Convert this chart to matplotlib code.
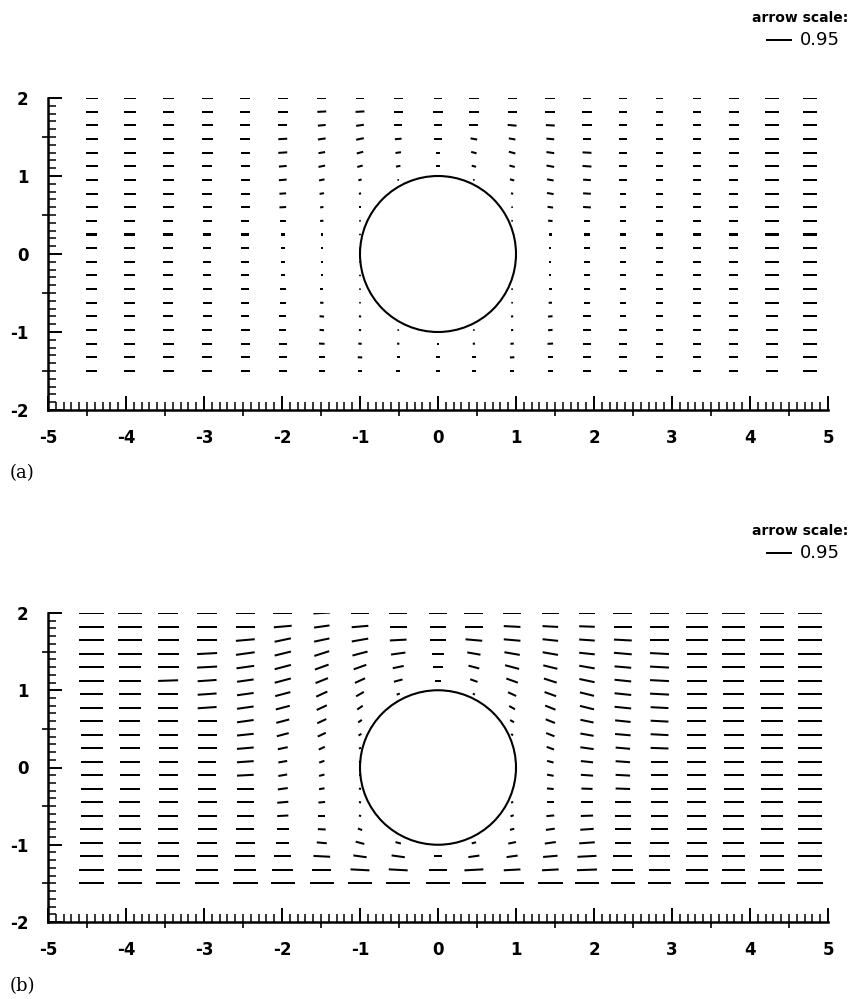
import numpy as np
import matplotlib.pyplot as plt
from matplotlib.patches import Circle
from matplotlib.ticker import MultipleLocator, NullFormatter

plt.rcParams['axes.unicode_minus'] = False

# grid of arrow positions (20 columns x 21 rows)
x_cols = [-4.44, -3.95, -3.46, -2.96, -2.47, -1.99, -1.49, -1.0, -0.51, 0.0,
          0.46, 0.95, 1.44, 1.91, 2.37, 2.84, 3.32, 3.79, 4.28, 4.77]
y_rows = [2.0, 1.825, 1.65, 1.475, 1.3, 1.125, 0.95, 0.775, 0.6, 0.425, 0.25,
          0.075, -0.1, -0.275, -0.45, -0.625, -0.8, -0.975, -1.15, -1.325, -1.5]

# panel (a): speed in hundredths, tilt in degrees (+ = pointing up-left)
speed_a = [
    [44, 44, 40, 40, 36, 36, 32, 32, 32, 32, 36, 32, 36, 32, 28, 28, 28, 36, 48, 48],
    [44, 44, 40, 40, 36, 36, 32, 32, 32, 36, 36, 32, 36, 36, 28, 28, 28, 36, 48, 48],
    [44, 44, 40, 40, 36, 32, 28, 28, 28, 32, 32, 32, 32, 36, 28, 28, 28, 36, 48, 48],
    [44, 44, 40, 40, 36, 32, 28, 28, 24, 28, 24, 24, 28, 32, 28, 28, 28, 36, 48, 48],
    [44, 44, 40, 40, 32, 32, 24, 24, 20, 16, 20, 24, 28, 32, 28, 28, 28, 36, 48, 48],
    [44, 44, 40, 36, 32, 28, 24, 20, 16, 12, 16, 20, 28, 32, 28, 28, 28, 32, 48, 48],
    [44, 44, 40, 36, 32, 28, 20, 12, 4, 0, 4, 16, 24, 28, 28, 28, 28, 32, 48, 48],
    [44, 44, 40, 36, 32, 24, 16, 8, 0, 0, 0, 8, 24, 28, 24, 28, 28, 32, 48, 48],
    [44, 44, 40, 32, 32, 24, 12, 8, 0, 0, 0, 4, 20, 28, 24, 28, 28, 32, 48, 48],
    [40, 40, 36, 32, 28, 20, 12, 4, 0, 0, 0, 4, 16, 24, 24, 28, 28, 32, 48, 48],
    [40, 40, 36, 28, 28, 16, 8, 4, 0, 0, 0, 0, 12, 24, 24, 28, 28, 32, 48, 48],
    [40, 40, 36, 28, 28, 16, 8, 4, 0, 0, 0, 0, 8, 20, 24, 28, 28, 32, 48, 48],
    [40, 40, 36, 28, 28, 16, 8, 4, 0, 0, 0, 0, 8, 20, 24, 28, 28, 32, 48, 48],
    [40, 40, 36, 28, 28, 16, 8, 4, 0, 0, 0, 0, 8, 20, 24, 28, 28, 32, 48, 48],
    [40, 40, 36, 32, 28, 20, 12, 4, 0, 0, 0, 4, 12, 24, 24, 28, 28, 32, 48, 48],
    [40, 40, 36, 32, 28, 20, 12, 4, 0, 0, 0, 4, 12, 24, 24, 28, 28, 32, 48, 48],
    [40, 40, 36, 32, 28, 24, 16, 8, 0, 0, 0, 8, 16, 28, 24, 28, 28, 32, 44, 48],
    [40, 40, 40, 36, 32, 24, 16, 8, 4, 0, 4, 8, 16, 28, 28, 28, 28, 32, 44, 48],
    [40, 40, 40, 36, 32, 28, 20, 12, 8, 8, 8, 12, 20, 28, 28, 28, 28, 32, 44, 48],
    [40, 40, 40, 36, 32, 28, 20, 16, 12, 12, 12, 16, 20, 28, 28, 28, 28, 32, 44, 48],
    [40, 40, 40, 36, 32, 28, 20, 16, 16, 12, 16, 16, 20, 32, 28, 28, 28, 32, 44, 48],
]
angle_a = [
    [0, 0, 0, 0, 0, 0, 0, 0, 0, 0, 0, 0, 0, 0, 0, 0, 0, 0, 0, 0],
    [0, 0, 0, 0, 0, 0, -3, -3, 0, 0, 0, 0, 0, 0, 0, 0, 0, 0, 0, 0],
    [0, 0, 0, 0, 0, 0, -5, -8, 0, 0, 0, 5, 3, 0, 0, 0, 0, 0, 0, 0],
    [0, 0, 0, 0, 0, -3, -8, -12, -5, 0, 10, 10, 5, 0, 0, 0, 0, 0, 0, 0],
    [0, 0, 0, 0, 0, -4, -10, -15, -8, 0, 15, 15, 8, 3, 0, 0, 0, 0, 0, 0],
    [0, 0, 0, 0, 0, -5, -12, -15, -10, 0, 15, 15, 10, 4, 0, 0, 0, 0, 0, 0],
    [0, 0, 0, 0, 0, -5, -12, -15, 0, 0, 0, 15, 10, 4, 0, 0, 0, 0, 0, 0],
    [0, 0, 0, 0, 0, -4, -10, -10, 0, 0, 0, 10, 10, 3, 0, 0, 0, 0, 0, 0],
    [0, 0, 0, 0, 0, -3, -8, 0, 0, 0, 0, 0, 8, 3, 0, 0, 0, 0, 0, 0],
    [0, 0, 0, 0, 0, 0, -5, 0, 0, 0, 0, 0, 5, 0, 0, 0, 0, 0, 0, 0],
    [0, 0, 0, 0, 0, 0, 0, 0, 0, 0, 0, 0, 0, 0, 0, 0, 0, 0, 0, 0],
    [0, 0, 0, 0, 0, 0, 0, 0, 0, 0, 0, 0, 0, 0, 0, 0, 0, 0, 0, 0],
    [0, 0, 0, 0, 0, 0, 0, 0, 0, 0, 0, 0, 0, 0, 0, 0, 0, 0, 0, 0],
    [0, 0, 0, 0, 0, 0, 0, 0, 0, 0, 0, 0, 0, 0, 0, 0, 0, 0, 0, 0],
    [0, 0, 0, 0, 0, 0, 0, 0, 0, 0, 0, 0, 0, 0, 0, 0, 0, 0, 0, 0],
    [0, 0, 0, 0, 0, 0, 3, 0, 0, 0, 0, 0, -3, 0, 0, 0, 0, 0, 0, 0],
    [0, 0, 0, 0, 0, 0, 5, 5, 0, 0, 0, -5, -5, 0, 0, 0, 0, 0, 0, 0],
    [0, 0, 0, 0, 0, 0, 5, 8, 5, 0, -5, -8, -5, 0, 0, 0, 0, 0, 0, 0],
    [0, 0, 0, 0, 0, 0, 3, 5, 5, 0, -5, -5, -3, 0, 0, 0, 0, 0, 0, 0],
    [0, 0, 0, 0, 0, 0, 0, 3, 0, 0, 0, -3, 0, 0, 0, 0, 0, 0, 0, 0],
    [0, 0, 0, 0, 0, 0, 0, 0, 0, 0, 0, 0, 0, 0, 0, 0, 0, 0, 0, 0],
]

# panel (b)
speed_b = [
    [88, 88, 72, 72, 68, 68, 60, 64, 64, 64, 68, 64, 60, 60, 68, 68, 80, 80, 88, 88],
    [88, 84, 76, 72, 68, 64, 56, 60, 60, 60, 64, 60, 56, 56, 64, 68, 76, 80, 84, 88],
    [88, 84, 76, 72, 68, 60, 56, 60, 60, 60, 60, 60, 56, 56, 64, 68, 76, 80, 84, 88],
    [88, 84, 76, 72, 68, 60, 56, 56, 52, 40, 48, 56, 56, 56, 64, 68, 72, 80, 84, 88],
    [88, 80, 76, 72, 64, 60, 52, 48, 40, 36, 40, 52, 52, 56, 60, 68, 72, 80, 84, 88],
    [88, 80, 72, 68, 60, 60, 48, 40, 32, 20, 28, 44, 48, 56, 60, 68, 72, 76, 84, 88],
    [84, 80, 72, 68, 60, 56, 44, 32, 12, 0, 8, 32, 44, 52, 60, 68, 72, 76, 84, 88],
    [84, 80, 72, 68, 60, 52, 40, 24, 0, 0, 0, 24, 40, 52, 60, 64, 72, 76, 80, 88],
    [84, 76, 72, 68, 60, 48, 36, 16, 0, 0, 0, 16, 36, 48, 56, 64, 68, 76, 80, 88],
    [80, 76, 68, 68, 60, 44, 32, 12, 0, 0, 0, 8, 32, 48, 56, 64, 68, 72, 80, 88],
    [80, 72, 68, 68, 60, 36, 24, 8, 0, 0, 0, 0, 28, 48, 52, 64, 68, 72, 80, 88],
    [80, 72, 68, 64, 60, 32, 20, 8, 0, 0, 0, 0, 24, 44, 52, 64, 68, 72, 80, 88],
    [80, 72, 68, 64, 60, 32, 20, 8, 0, 0, 0, 0, 24, 44, 52, 64, 68, 72, 80, 88],
    [80, 72, 68, 64, 60, 36, 20, 8, 0, 0, 0, 0, 24, 40, 52, 64, 68, 72, 80, 88],
    [80, 76, 68, 68, 60, 40, 24, 8, 0, 0, 0, 8, 24, 40, 56, 64, 68, 72, 80, 88],
    [80, 76, 72, 68, 60, 40, 24, 8, 0, 0, 0, 12, 28, 44, 56, 64, 68, 76, 80, 88],
    [84, 80, 72, 68, 64, 44, 28, 16, 0, 0, 0, 16, 32, 48, 60, 64, 72, 76, 80, 88],
    [84, 80, 76, 72, 68, 48, 36, 32, 20, 0, 16, 28, 40, 56, 60, 68, 72, 76, 84, 88],
    [84, 84, 80, 76, 72, 60, 60, 48, 48, 32, 40, 40, 52, 68, 68, 72, 76, 80, 84, 88],
    [88, 84, 84, 80, 80, 76, 68, 68, 68, 68, 68, 60, 60, 72, 76, 76, 80, 84, 88, 88],
    [88, 88, 88, 88, 88, 88, 88, 88, 88, 84, 88, 88, 88, 88, 88, 80, 88, 92, 96, 92],
]
angle_b = [
    [0, 0, 0, 0, 0, 0, -3, 0, 0, 0, 0, 0, 0, 0, 0, 0, 0, 0, 0, 0],
    [0, 0, 0, 0, 0, -5, -8, -5, 0, 0, 0, 3, 3, 2, 0, 0, 0, 0, 0, 0],
    [0, 0, 0, 0, -5, -12, -12, -10, -3, 0, 5, 5, 6, 4, 3, 0, 0, 0, 0, 0],
    [0, 0, 0, -3, -8, -14, -18, -15, -8, 0, 10, 10, 10, 6, 5, 3, 0, 0, 0, 0],
    [0, 0, 0, -3, -8, -15, -20, -20, -12, 0, 15, 15, 14, 10, 5, 3, 0, 0, 0, 0],
    [0, 0, -2, -4, -8, -15, -22, -25, -15, 0, 20, 20, 18, 12, 6, 3, 0, 0, 0, 0],
    [0, 0, 0, -4, -8, -15, -25, -30, -20, 0, 25, 25, 20, 14, 6, 3, 0, 0, 0, 0],
    [0, 0, 0, -4, -8, -15, -25, -35, 0, 0, 0, 30, 22, 14, 6, 3, 0, 0, 0, 0],
    [0, 0, 0, 0, -8, -15, -25, -35, 0, 0, 0, 30, 22, 12, 6, 3, 0, 0, 0, 0],
    [0, 0, 0, 0, -6, -15, -25, -30, 0, 0, 0, 30, 22, 10, 5, 3, 0, 0, 0, 0],
    [0, 0, 0, 0, -5, -12, -25, -20, 0, 0, 0, 0, 20, 8, 5, 2, 0, 0, 0, 0],
    [0, 0, 0, 0, -4, -10, -20, -10, 0, 0, 0, 0, 15, 6, 4, 0, 0, 0, 0, 0],
    [0, 0, 0, 0, -3, -10, -15, 0, 0, 0, 0, 0, 10, 4, 3, 0, 0, 0, 0, 0],
    [0, 0, 0, 0, 0, -8, -10, 5, 0, 0, 0, 0, 5, 2, 2, 0, 0, 0, 0, 0],
    [0, 0, 0, 0, 0, -5, -5, 10, 0, 0, 0, -20, 0, 0, 0, 0, 0, 0, 0, 0],
    [0, 0, 0, 0, 0, -3, 0, 15, 0, 0, 0, -20, -5, -2, 0, 0, 0, 0, 0, 0],
    [0, 0, 0, 0, 0, 0, 3, 20, 0, 0, 0, -15, -8, -4, 0, 0, 0, 0, 0, 0],
    [0, 0, 0, 0, 0, 0, 5, 15, 15, 0, -15, -12, -8, -4, 0, 0, 0, 0, 0, 0],
    [0, 0, 0, 0, 0, 0, 3, 8, 8, 0, -8, -8, -5, -3, 0, 0, 0, 0, 0, 0],
    [0, 0, 0, 0, 0, 0, 0, 3, 3, 0, -3, -3, -3, -2, 0, 0, 0, 0, 0, 0],
    [0, 0, 0, 0, 0, 0, 0, 0, 0, 0, 0, 0, 0, 0, 0, 0, 0, 0, 0, 0],
]

key_value = 0.95
panel_labels = ['(a)', '(b)']

W, H = 852, 999
fig = plt.figure(figsize=(W / 100, H / 100), dpi=100)
ax_a = fig.add_axes([48 / W, 1 - 410 / H, 780 / W, 312 / H])
ax_b = fig.add_axes([48 / W, 1 - 922 / H, 780 / W, 309 / H])

X, Y = np.meshgrid(x_cols, y_rows)
outside = X ** 2 + Y ** 2 >= 1.0


def draw_panel(ax, speed, angle, label, top_px):
    s = np.array(speed, dtype=float) / 100.0
    a = np.radians(np.array(angle, dtype=float))
    U = -s * np.cos(a)
    V = s * np.sin(a)
    # plain dashes, the original arrowheads are barely visible
    q = ax.quiver(X[outside], Y[outside], U[outside], V[outside],
                  angles='xy', scale_units='xy', scale=2.8, pivot='middle',
                  width=0.0026, headwidth=0, headlength=0, headaxislength=0,
                  minlength=1.0, color='black')
    ax.add_patch(Circle((0, 0), 1.0, fill=False, lw=1.5, color='black'))

    ax.set_xlim(-5, 5)
    ax.set_ylim(-2, 2)
    for side in ['top', 'right']:
        ax.spines[side].set_visible(False)
    for side in ['left', 'bottom']:
        ax.spines[side].set_linewidth(1.8)
    ax.set_xticks(np.arange(-5, 6, 1))
    ax.set_yticks(np.arange(-2, 3, 1))
    ax.xaxis.set_minor_locator(MultipleLocator(0.1))
    ax.yaxis.set_minor_locator(MultipleLocator(0.1))
    ax.tick_params(which='major', direction='in', length=10, width=1.4,
                   labelsize=12, pad=14)
    ax.tick_params(which='minor', direction='in', length=6, width=1.1)
    for t in ax.get_xticklabels() + ax.get_yticklabels():
        t.set_fontweight('bold')

    # the half-unit ticks also poke out of the axis
    for sec in [ax.secondary_xaxis('bottom'), ax.secondary_yaxis('left')]:
        for sp in sec.spines.values():
            sp.set_visible(False)
        sec.tick_params(direction='out', length=4, width=1.2)
    ax.child_axes[-2].set_xticks(np.arange(-4.5, 5, 1.0))
    ax.child_axes[-2].xaxis.set_major_formatter(NullFormatter())
    ax.child_axes[-1].set_yticks(np.arange(-1.5, 2, 1.0))
    ax.child_axes[-1].yaxis.set_major_formatter(NullFormatter())

    ax.quiverkey(q, 792 / W, 1 - (top_px + 40) / H, key_value, '0.95',
                 labelpos='E', coordinates='figure', labelsep=0.08,
                 fontproperties={'size': 13})
    fig.text(848 / W, 1 - (top_px + 18) / H, 'arrow scale:', ha='right',
             va='center', fontsize=10, fontweight='bold')
    fig.text(10 / W, 1 - (top_px + 473) / H, label, ha='left', va='center',
             fontsize=13, family='DejaVu Serif')


draw_panel(ax_a, speed_a, angle_a, panel_labels[0], 0)
draw_panel(ax_b, speed_b, angle_b, panel_labels[1], 513)

fig.savefig('out.png', dpi=100)
